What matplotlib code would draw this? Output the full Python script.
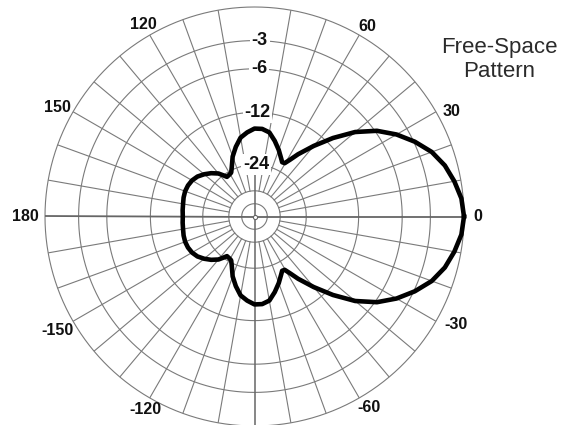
import numpy as np
import matplotlib
matplotlib.use("Agg")
import matplotlib.pyplot as plt

plt.rcParams['font.family'] = ['Liberation Sans', 'DejaVu Sans']

# pattern, upper half (deg, dB) - lower half is the mirror image
pat_ang = [0, 5, 10, 15, 20, 25, 30, 35, 40, 45, 50, 55, 58, 60.5, 63, 65,
           70, 75, 80, 85, 90, 95, 100, 105, 110, 115, 118, 121, 124.8, 127,
           130, 135, 140, 145, 150, 155, 160, 165, 170, 175, 180]
pat_db = [0, -0.15, -0.55, -1.05, -1.8, -2.9, -4.2, -5.8, -8.0, -10.9, -14.1,
          -17.4, -19.6, -21.1, -21.2, -20.5, -18.6, -16.9, -15.4, -14.9, -14.9,
          -15.6, -16.5, -18.3, -20.4, -23.3, -24.7, -25.0, -25.2, -24.1,
          -22.6, -21.1, -19.9, -18.9, -18.3, -18.0, -17.9, -18.0, -18.2,
          -18.3, -18.4]

ring_db = [0, -3, -6, -12, -24, -36, -48]
ring_labels = ['-3', '-6', '-12', '-24']
ang_labels = [0, 30, 60, 120, 150, 180, -30, -60, -120, -150]


def arrl(db):
    # ARRL log-periodic scale: radius * 0.89 per 2 dB
    return 0.89 ** (-np.asarray(db, dtype=float) / 2.0)


fig = plt.figure(figsize=(5.68, 4.25), dpi=100)
ax = fig.add_axes([45 / 568, -1 / 425, 419 / 568, 419 / 425], projection='polar')
ax.set_ylim(0, 1)
ax.grid(False)
ax.set_xticks([])
ax.set_yticks([])
ax.spines['polar'].set_visible(False)

gc = '#7a7a7a'
t = np.linspace(0, 2 * np.pi, 721)
for d in ring_db:
    ax.plot(t, np.full_like(t, arrl(d)), color=gc, lw=0.8, clip_on=False, zorder=1)

# spokes every 10 deg, starting at the -36 dB ring
r_in = arrl(-36)
for a in range(0, 360, 10):
    if a % 90 == 0:
        continue
    th = np.radians(a)
    ax.plot([th, th], [r_in, 1], color=gc, lw=0.8, zorder=1)

# main axes
ac = '#666666'
ax.plot([0, 0], [0, 1], color=ac, lw=1.3, zorder=1)
ax.plot([np.pi, np.pi], [0, 1], color=ac, lw=1.3, zorder=1)
ax.plot([-np.pi / 2, -np.pi / 2], [0, 1], color=ac, lw=1.1, zorder=1)
ax.plot([np.pi / 2, np.pi / 2], [0, arrl(-24)], color=ac, lw=1.1, zorder=1)
ax.plot([0], [0], 'o', ms=3, mfc='white', mec=ac, mew=0.8, zorder=2)

# pattern
ang = np.radians(np.concatenate([pat_ang, -np.array(pat_ang[::-1])]))
rr = arrl(np.concatenate([pat_db, pat_db[::-1]]))
ax.plot(ang, rr, color='black', lw=3.3, solid_joinstyle='round',
        clip_on=False, zorder=3)

# dB labels along the 90 deg line
for lab in ring_labels:
    r = arrl(float(lab))
    ax.text(np.radians(88.3), r, lab, ha='center', va='center',
            fontsize=13, fontweight='bold', color='#111111', zorder=4,
            bbox=dict(boxstyle='square,pad=0.1', fc='white', ec='none'))

# angle labels: (angle, radius) where each one sits
lab_pos = {0: (0, 1.068), 30: (27.9, 1.066), 60: (59.3, 1.052),
           120: (120.2, 1.058), 150: (151, 1.078), 180: (180, 1.095),
           -30: (-28.3, 1.09), -60: (-59, 1.061), -120: (-119.5, 1.061),
           -150: (-150.1, 1.087)}
for a in ang_labels:
    th, rl = lab_pos[a]
    ax.text(np.radians(th), rl, str(a), ha='center', va='center',
            fontsize=11.5, fontweight='bold', color='#111111')

fig.text(499 / 568, 1 - 59.5 / 425, 'Free-Space\nPattern', ha='center',
         va='center', fontsize=16, color='#2b2b2b', linespacing=1.2)

fig.savefig('out.png', dpi=100)
